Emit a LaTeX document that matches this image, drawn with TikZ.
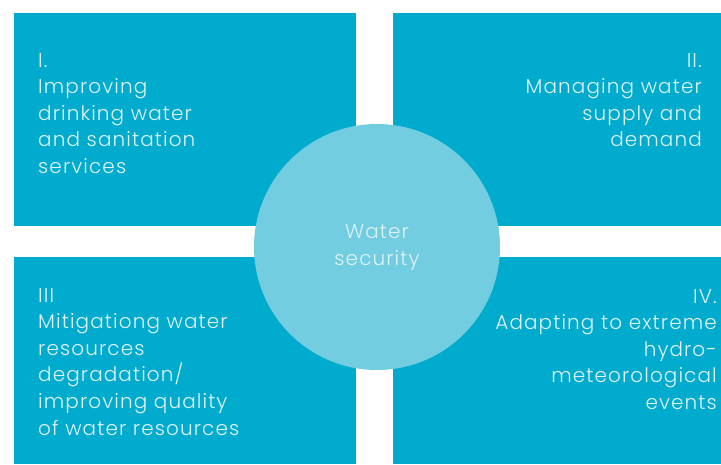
\documentclass[tikz,border=0pt]{standalone}
\usepackage{fontspec}
\setmainfont{Poppins Light}[LetterSpace=5.5]
\definecolor{boxblue}{HTML}{00ABCD}
\definecolor{hubblue}{HTML}{72CDE0}
\definecolor{labeltext}{HTML}{DDF2F7}
\begin{document}
\begin{tikzpicture}[x=1pt,y=-1pt,
  quad/.style={fill=boxblue, draw=none, inner sep=0pt, anchor=north west},
  hub/.style={circle, fill=hubblue, draw=none, inner sep=0pt, minimum size=246pt},
  quadtext/.style={text=labeltext, inner sep=0pt, text width=240pt,
    font=\fontsize{20}{26.6}\selectfont},
  leftlabel/.style={quadtext, align=left, anchor=base west},
  rightlabel/.style={quadtext, align=right, anchor=base east},
  hubtext/.style={text=labeltext, inner sep=0pt, text width=120pt, align=center,
    anchor=base, font=\fontsize{20}{27}\selectfont}]
\useasboundingbox (0,0) rectangle (721,464);
% four quadrants
\node[quad, minimum width=342pt, minimum height=213pt] (q1) at (14,13) {};
\node[quad, minimum width=328pt, minimum height=213pt] (q2) at (393,13) {};
\node[quad, minimum width=342pt, minimum height=207pt] (q3) at (14,257) {};
\node[quad, minimum width=328pt, minimum height=207pt] (q4) at (393,257) {};
% central disc
\node[hub] (hub) at (377,247) {};
\node[hubtext] (hublabel) at (377,238) {Water\\security};
% quadrant labels
\node[leftlabel] (t1) at (38,67) {I.\\Improving\\drinking water\\and sanitation\\services};
\node[rightlabel] (t2) at (702,67) {II.\\Managing water\\supply and\\demand};
\node[leftlabel] (t3) at (38,302) {III\\Mitigationg water\\resources\\degradation/\\improving quality\\of water resources};
\node[rightlabel] (t4) at (717,303) {IV.\\Adapting to extreme\\hydro-\\meteorological\\events};
\end{tikzpicture}
\end{document}
